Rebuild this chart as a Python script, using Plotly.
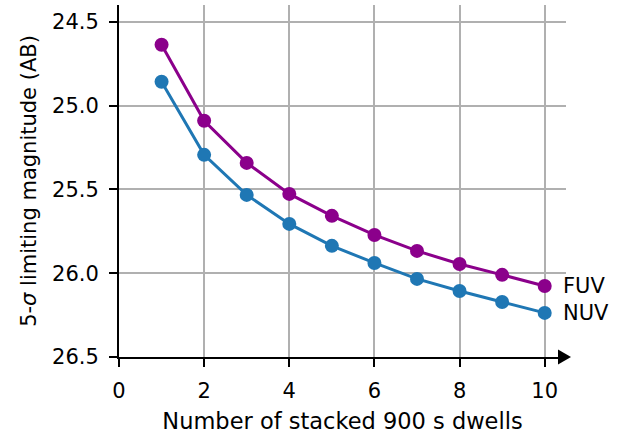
import plotly.graph_objects as go

dwells = [1, 2, 3, 4, 5, 6, 7, 8, 9, 10]
fuv_mag = [24.637, 25.091, 25.342, 25.527, 25.658, 25.772, 25.867, 25.945, 26.010, 26.076]
nuv_mag = [24.858, 25.294, 25.533, 25.706, 25.837, 25.939, 26.034, 26.106, 26.172, 26.237]
x_ticks = [0, 2, 4, 6, 8, 10]
y_ticks = [24.5, 25.0, 25.5, 26.0, 26.5]
y_tick_labels = ["24.5", "25.0", "25.5", "26.0", "26.5"]

FUV_COLOR = "#8b008b"
NUV_COLOR = "#1f77b4"
FONT = "DejaVu Sans"

fig = go.Figure()
fig.add_trace(go.Scatter(x=dwells, y=nuv_mag, mode="lines+markers", name="NUV",
                         line=dict(color=NUV_COLOR, width=3),
                         marker=dict(color=NUV_COLOR, size=14), cliponaxis=False))
fig.add_trace(go.Scatter(x=dwells, y=fuv_mag, mode="lines+markers", name="FUV",
                         line=dict(color=FUV_COLOR, width=3),
                         marker=dict(color=FUV_COLOR, size=14), cliponaxis=False))

for name, vals in (("FUV", fuv_mag), ("NUV", nuv_mag)):
    fig.add_annotation(x=dwells[-1], y=vals[-1], xref="x", yref="y", text=name,
                       showarrow=False, xanchor="left", yanchor="middle", xshift=16,
                       font=dict(family=FONT, size=21, color="black"))

# arrow head at the end of the x axis
fig.add_shape(type="path", xref="x domain", yref="y domain",
              xsizemode="pixel", ysizemode="pixel", xanchor=1, yanchor=0,
              path="M -8 -7.5 L 5 0 L -8 7.5 Z",
              fillcolor="black", line=dict(color="black", width=0), layer="above")

fig.update_layout(
    width=629, height=434,
    margin=dict(l=119, r=63, t=5, b=77),
    paper_bgcolor="white", plot_bgcolor="white",
    showlegend=False,
    font=dict(family=FONT, size=21, color="black"),
)
fig.update_xaxes(range=[0, 10.5], tickvals=x_ticks, ticks="outside", ticklen=8, tickwidth=1.6,
                 tickcolor="black", showline=True, linecolor="black", linewidth=2,
                 showgrid=True, gridcolor="#b0b0b0", gridwidth=1.8, zeroline=False,
                 automargin=False,
                 title=dict(text="Number of stacked 900 s dwells", font=dict(size=22.5), standoff=12),
                 tickfont=dict(size=21), ticklabelstandoff=6)
fig.update_yaxes(range=[26.5, 24.4], tickvals=y_ticks, ticktext=y_tick_labels, ticks="outside",
                 ticklen=8, tickwidth=1.6, tickcolor="black", showline=True, linecolor="black",
                 linewidth=2, showgrid=True, gridcolor="#b0b0b0", gridwidth=1.8, zeroline=False,
                 automargin=False,
                 title=dict(text="5-<i>σ</i> limiting magnitude (AB)", font=dict(size=21), standoff=10),
                 tickfont=dict(size=21), ticklabelstandoff=6)

fig.write_html("out.html", config={"displayModeBar": False},
               post_script="document.body.style.margin='0';document.body.style.overflow='hidden';")
